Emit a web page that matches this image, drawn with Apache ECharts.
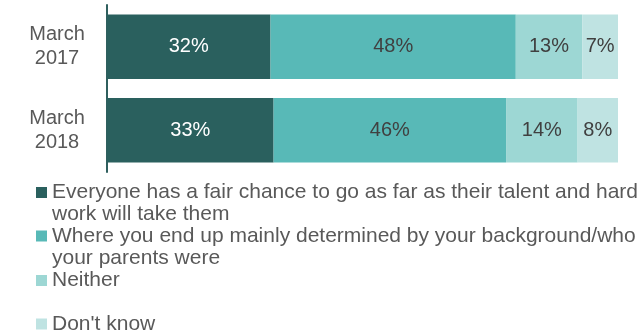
<!DOCTYPE html>
<html>
<head>
<meta charset="utf-8">
<script src="https://cdn.jsdelivr.net/npm/echarts@6/dist/echarts.min.js"></script>
<style>
html,body{margin:0;padding:0;background:#fff;}
#chart{width:644px;height:333px;}
</style>
</head>
<body>
<div id="chart"></div>
<script>
var categories = ['March\n2017', 'March\n2018'];
var seriesNames = [
  'Everyone has a fair chance to go as far as their talent and hard\nwork will take them',
  'Where you end up mainly determined by your background/who\nyour parents were',
  'Neither',
  "Don't know"
];
var fairChance = [32, 32.6];
var background = [48, 45.5];
var neither = [13, 14.0];
var dontKnow = [7, 7.9];
var colors = ['#2a605e', '#58b9b7', '#9dd7d4', '#bfe3e2'];
var labelColors = ['#ffffff', '#404040', '#404040', '#404040'];

var values = [fairChance, background, neither, dontKnow];
var series = values.map(function (v, i) {
  return {
    name: seriesNames[i],
    type: 'bar',
    stack: 'total',
    barCategoryGap: '23%',
    data: v,
    itemStyle: { color: colors[i] },
    label: {
      show: true,
      position: 'inside',
      color: labelColors[i],
      fontSize: 20,
      fontFamily: 'Liberation Sans, Arial, sans-serif',
      formatter: function (p) { return Math.round(p.value) + '%'; }
    },
    emphasis: { disabled: true }
  };
});

var legendTops = [159.5, 203, 269.5, 313];
var legends = seriesNames.map(function (n, i) {
  var twoLine = n.indexOf('\n') >= 0;
  return {
    data: [n],
    orient: 'vertical',
    left: 36,
    top: legendTops[i],
    padding: 0,
    itemWidth: 11,
    itemHeight: 11,
    itemGap: 0,
    icon: 'rect',
    selectedMode: false,
    formatter: function (name) { return twoLine ? '\n' + name : name; },
    textStyle: {
      color: '#595959',
      fontSize: 21,
      lineHeight: 22,
      fontFamily: 'Liberation Sans, Arial, sans-serif'
    }
  };
});

var chart = echarts.init(document.getElementById('chart'));
chart.setOption({
  animation: false,
  grid: { left: 107, right: 26, top: 5, height: 167 },
  xAxis: { type: 'value', min: 0, max: 100, show: false },
  yAxis: {
    type: 'category',
    data: categories,
    inverse: true,
    offset: 2,
    axisLine: { show: true, lineStyle: { color: '#2f5f5e', width: 2 } },
    axisTick: { show: false },
    axisLabel: {
      align: 'center',
      margin: 48,
      color: '#595959',
      fontSize: 20,
      lineHeight: 24,
      fontFamily: 'Liberation Sans, Arial, sans-serif'
    }
  },
  legend: legends,
  series: series
});
</script>
</body>
</html>
